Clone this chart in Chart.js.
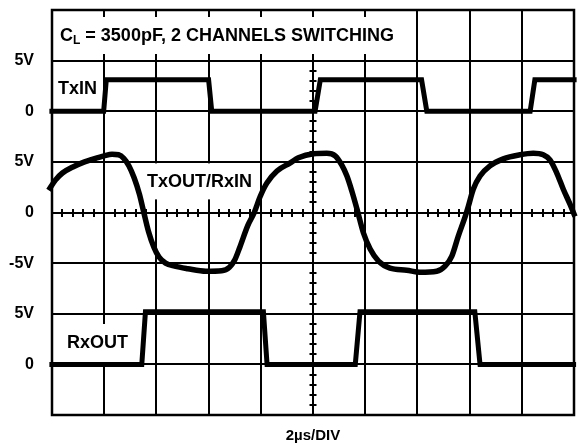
<!DOCTYPE html>
<html lang="en">
<head>
  <meta charset="UTF-8">
  <title>TxIN / TxOUT / RxOUT</title>
  <script src="https://cdn.jsdelivr.net/npm/chart.js"></script>
  <style>
    body { margin: 0; padding: 0; background: #fff; }
    .scope { width: 579px; height: 445px; position: relative; }
  </style>
</head>
<body>
  <div class="scope">
    <canvas id="scopeChart"></canvas>
  </div>

  <script>
    // time in µs (2µs per division), levels in volts
    const txinTime = [-0.1, 1.98, 2.08, 6.0, 6.12, 10.08, 10.28, 14.16, 14.36, 18.32, 18.5, 20.1];
    const txinVolt = [0, 0, 3.1, 3.1, 0, 0, 3.1, 3.1, 0, 0, 3.1, 3.1];

    const txoutTime = [-0.13, 0.13, 0.4, 0.8, 1.2, 1.6, 2.0, 2.3, 2.55, 2.75, 2.95, 3.15, 3.35, 3.5,
      3.7, 3.9, 4.1, 4.35, 4.7, 5.2, 5.9, 6.5, 6.8, 7.0, 7.2, 7.5, 7.75, 7.98, 8.23, 8.62, 9.13,
      9.44, 10.02, 10.53, 10.85, 11.1, 11.3, 11.49, 11.7, 11.93, 12.19, 12.51, 12.95, 13.59, 14.1,
      14.74, 15.06, 15.32, 15.57, 15.83, 15.95, 16.14, 16.4, 16.78, 17.29, 17.93, 18.44, 18.82,
      19.08, 19.34, 19.59, 19.85, 20.04];
    const txoutVolt = [2.2, 3.2, 3.9, 4.5, 4.95, 5.3, 5.6, 5.75, 5.7, 5.35, 4.6, 3.4, 1.8, 0.2,
      -1.9, -3.4, -4.4, -5.0, -5.3, -5.55, -5.8, -5.75, -5.4, -4.7, -3.4, -1.3, 0, 1.6, 2.9, 4.1, 4.9,
      5.4, 5.8, 5.85, 5.6, 4.7, 3.6, 2.1, 0.2, -2.0, -3.6, -4.8, -5.5, -5.7, -5.9,
      -5.8, -5.3, -4.3, -2.3, -0.4, 0.6, 2.3, 3.6, 4.6, 5.3, 5.7, 5.85, 5.7,
      5.2, 3.9, 2.3, 0.8, -0.4];

    const rxoutTime = [-0.1, 3.44, 3.58, 8.1, 8.24, 11.62, 11.8, 16.2, 16.4, 20.08];
    const rxoutVolt = [0, 0, 5.2, 5.2, 0, 0, 5.2, 5.2, 0, 0];

    // graticule rows, bottom to top (8 divisions)
    const rowLabels = ['', '0', '5V', '-5V', '0', '5V', '0', '5V', ''];

    const FONT = "'Liberation Sans', Arial, Helvetica, sans-serif";

    function points(t, v) {
      return t.map((x, i) => ({ x: x, y: v[i] }));
    }

    // white patches behind the trace names, then the minor ticks on the centre axes
    const scopePlugin = {
      id: 'scope',
      beforeDatasetsDraw(chart) {
        const ctx = chart.ctx;
        const xs = chart.scales.x;
        const ys = chart.scales.y;
        const area = chart.chartArea;

        ctx.save();
        ctx.fillStyle = '#fff';
        ctx.fillRect(area.left + 2, 17, 346, 37);
        ctx.fillRect(143, ys.getPixelForValue(5) + 1.5, 115, 36);
        ctx.fillRect(62, 324, 72, 39);

        // minor ticks, 5 per division
        ctx.strokeStyle = '#000';
        ctx.lineWidth = 2;
        const cx = Math.round(xs.getPixelForValue(10));
        const cy = Math.round(ys.getPixelForValue(4));
        ctx.beginPath();
        for (let i = 1; i < 50; i++) {
          if (i % 5 === 0) continue;
          const px = Math.round(xs.getPixelForValue(i * 0.4));
          ctx.moveTo(px, cy - 4);
          ctx.lineTo(px, cy + 4);
        }
        for (let i = 1; i < 40; i++) {
          if (i % 5 === 0) continue;
          const py = Math.round(ys.getPixelForValue(i * 0.2));
          if (py < 54 && py > 17) continue;
          ctx.moveTo(cx - 3.5, py);
          ctx.lineTo(cx + 3.5, py);
        }
        ctx.stroke();

        ctx.lineWidth = 2.5;
        ctx.strokeRect(area.left, area.top, area.right - area.left, area.bottom - area.top);

        // trace names and the load condition
        ctx.fillStyle = '#000';
        ctx.textBaseline = 'middle';
        ctx.textAlign = 'left';
        ctx.font = 'bold 18px ' + FONT;
        ctx.fillText('C', 60, 36);
        let w = ctx.measureText('C').width;
        ctx.font = 'bold 12px ' + FONT;
        ctx.fillText('L', 60 + w, 41);
        w += ctx.measureText('L').width;
        ctx.font = 'bold 18px ' + FONT;
        ctx.fillText(' = 3500pF, 2 CHANNELS SWITCHING', 60 + w, 36);

        ctx.font = 'bold 18px ' + FONT;
        ctx.fillText('TxIN', 58, 89);
        ctx.fillText('TxOUT/RxIN', 147, 182);
        ctx.fillText('RxOUT', 67, 343);
        ctx.restore();
      }
    };

    const ctx = document.getElementById('scopeChart').getContext('2d');
    new Chart(ctx, {
      type: 'line',
      data: {
        datasets: [
          {
            label: 'TxIN',
            data: points(txinTime, txinVolt),
            yAxisID: 'yTxin',
            borderColor: '#000',
            borderWidth: 5,
            tension: 0,
            pointRadius: 0,
            clip: false
          },
          {
            label: 'TxOUT/RxIN',
            data: points(txoutTime, txoutVolt),
            yAxisID: 'yTxout',
            borderColor: '#000',
            borderWidth: 5.5,
            cubicInterpolationMode: 'monotone',
            pointRadius: 0,
            clip: false
          },
          {
            label: 'RxOUT',
            data: points(rxoutTime, rxoutVolt),
            yAxisID: 'yRxout',
            borderColor: '#000',
            borderWidth: 5,
            tension: 0,
            pointRadius: 0,
            clip: false
          }
        ]
      },
      options: {
        responsive: true,
        maintainAspectRatio: false,
        animation: false,
        events: [],
        layout: { padding: { top: 10, right: 5, left: 0, bottom: 0 } },
        scales: {
          x: {
            type: 'linear',
            min: 0,
            max: 20,
            ticks: { stepSize: 2, display: false },
            grid: { color: '#000', lineWidth: 2, drawTicks: false },
            border: { display: false },
            title: {
              display: true,
              text: '2µs/DIV',
              color: '#000',
              font: { family: FONT, size: 15, weight: 'bold' },
              padding: { top: 6, bottom: 0 }
            },
            afterFit(scale) {
              scale.height = 30;
              scale.paddingLeft = 0;
              scale.paddingRight = 0;
            }
          },
          y: {
            min: 0,
            max: 8,
            ticks: {
              stepSize: 1,
              color: '#000',
              padding: 18,
              font: { family: FONT, size: 16, weight: 'bold' },
              callback: (v) => rowLabels[v]
            },
            grid: { color: '#000', lineWidth: 2, drawTicks: false },
            border: { display: false },
            afterFit(scale) {
              scale.width = 52;
              scale.paddingTop = 0;
              scale.paddingBottom = 0;
            }
          },
          yTxin: { display: false, min: -30, max: 10 },
          yTxout: { display: false, min: -20, max: 20 },
          yRxout: { display: false, min: -5, max: 35 }
        },
        plugins: {
          legend: { display: false },
          tooltip: { enabled: false }
        }
      },
      plugins: [scopePlugin]
    });
  </script>
</body>
</html>
